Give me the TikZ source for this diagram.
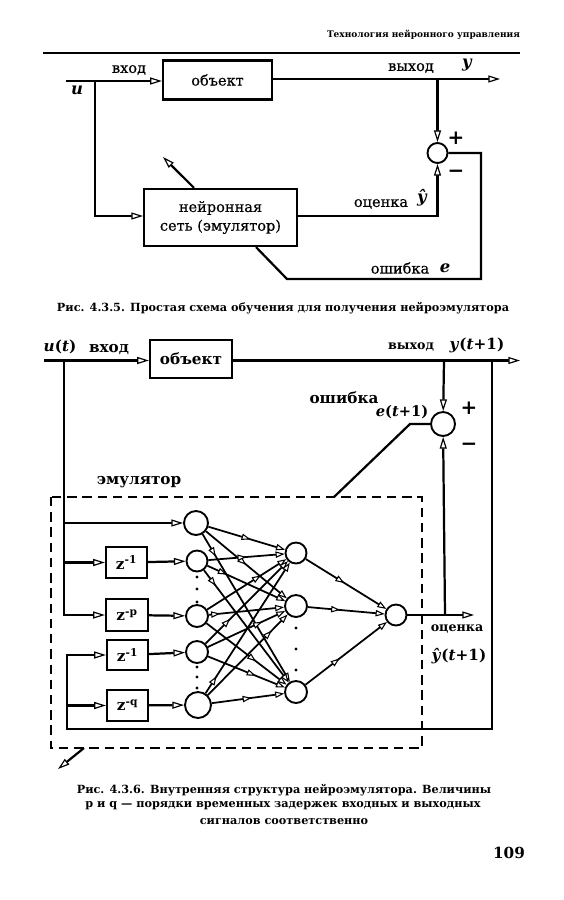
\documentclass[tikz,border=0pt]{standalone}
\usepackage{amsmath,amssymb}
\usepackage{fontspec}
\setmainfont{DejaVu Serif}
\newfontfamily\scanfont[FakeBold=0.5]{DejaVu Serif}
\usepackage{tikz}
\usetikzlibrary{arrows.meta,decorations.markings,calc,positioning,shapes.geometric}
\tikzset{
  opentip/.tip={Triangle[fill=white,length=3.5mm,width=2.1mm,line width=1pt]},
  smalltip/.tip={Triangle[fill=white,length=2.7mm,width=1.9mm,line width=0.9pt]},
  wire/.style={line width=1.9pt},
  thinwire/.style={line width=1.5pt},
  block/.style={draw,line width=1.9pt,inner sep=0pt,align=center},
  neuron/.style={draw,circle,line width=1.6pt,inner sep=0pt},
  lbl/.style={inner sep=0pt,font=\fontsize{12.4}{14}\scanfont},
  lblit/.style={inner sep=0pt,font=\fontsize{14}{16}\selectfont\bfseries\itshape},
  lblb/.style={inner sep=0pt,font=\fontsize{13}{15}\selectfont\bfseries},
  lblsm/.style={inner sep=0pt,font=\fontsize{10.8}{12}\selectfont\bfseries},
  sign/.style={inner sep=0pt,font=\fontsize{17}{17}\selectfont\bfseries},
  zlbl/.style={font=\fontsize{13}{15}\selectfont\bfseries},
  captext/.style={inner sep=0pt,font=\fontsize{9.6}{11}\selectfont\bfseries},
  midtip/.style={postaction={decorate},decoration={markings,mark=at position #1 with {\arrow{smalltip}}}},
  link/.style={thinwire,-smalltip},
}
\begin{document}
\begin{tikzpicture}[x=0.03cm,y=-0.03cm,>=Stealth]
  \useasboundingbox (0,0) rectangle (564,900);
  % page head
  \node[captext,font=\fontsize{7.7}{9}\selectfont\bfseries] (head) at (423.5,35) {Технология нейронного управления};
  \coordinate (ruleL) at (43,53);
  \coordinate (ruleR) at (520,53);
  \draw[line width=2.2pt] (ruleL) -- (ruleR);
  % first scheme
  \node[block,minimum width=3.27cm,minimum height=1.17cm,font=\fontsize{12.4}{14}\scanfont] (plant) at (217.5,80) {объект};
  \node[block,minimum width=4.58cm,minimum height=1.71cm,font=\fontsize{12.4}{16}\scanfont] (net) at (220.5,217.5) {нейронная\\сеть (эмулятор)};
  \node[neuron,minimum size=0.6cm] (sum) at (437.5,153) {};
  \coordinate (inL) at (66,81);
  \coordinate (inT) at (94.7,81);
  \coordinate (outR) at (500,79);
  \coordinate (outT) at (437.5,79);
  \coordinate (learn) at (163,157);
  \draw[wire,-opentip] (inL) -- (plant.west |- inL);
  \draw[wire,-opentip] (inT) |- (net.west |- 0,216);
  \draw[wire,-opentip] (plant.east |- outR) -- (outR);
  \draw[wire,-opentip] (outT) -- (sum);
  \draw[wire,-opentip] (net.east |- 0,216) -| (sum);
  \draw[wire] (sum) -| (481,279) -- (287,279) -- (net.south -| 256,0);
  \draw[wire,-opentip] (net.north -| 194,0) -- (learn);
  \node[lbl] (lin) at (129,70) {вход};
  \node[lblit] (lu) at (77,90) {u};
  \node[lbl] (lout) at (411,68) {выход};
  \node[lblit] (ly) at (467,65) {y};
  \node[lbl] (lest) at (381,204) {оценка};
  \node[lblit] (lyh) at (422,198) {ŷ};
  \node[lbl] (lerr) at (400,268) {ошибка};
  \node[lblit] (le) at (445,268) {e};
  \node[sign] (lplus) at (456,138) {+};
  \node[sign] (lminus) at (456,174) {−};
  \node[captext] (cap1) at (283,308) {Рис. 4.3.5. Простая схема обучения для получения нейроэмулятора};
  % second scheme
  \node[block,minimum width=2.46cm,minimum height=1.14cm,font=\fontsize{13}{15}\selectfont\bfseries] (plantb) at (191,359) {объект};
  \node[neuron,minimum size=0.72cm] (sumb) at (443,424) {};
  \node[block,zlbl,minimum width=1.23cm,minimum height=0.93cm] (za) at (126.5,562.5) {z\textsuperscript{-1}};
  \node[block,zlbl,minimum width=1.26cm,minimum height=0.96cm] (zb) at (127,615) {z\textsuperscript{-p}};
  \node[block,zlbl,minimum width=1.23cm,minimum height=0.90cm] (zc) at (127.5,655) {z\textsuperscript{-1}};
  \node[block,zlbl,minimum width=1.23cm,minimum height=0.93cm] (zd) at (127.5,705.5) {z\textsuperscript{-q}};
  \node[neuron,minimum size=0.72cm] (ia) at (196,523) {};
  \node[neuron,minimum size=0.63cm] (ib) at (197,561) {};
  \node[neuron,minimum size=0.66cm] (ic) at (197,616) {};
  \node[neuron,minimum size=0.66cm] (id) at (197,652) {};
  \node[neuron,minimum size=0.78cm] (ie) at (198,705) {};
  \node[neuron,minimum size=0.63cm] (ha) at (296,553) {};
  \node[neuron,minimum size=0.66cm] (hb) at (296,606) {};
  \node[neuron,minimum size=0.66cm] (hc) at (296,692) {};
  \node[neuron,minimum size=0.63cm] (oa) at (396,615) {};
  \coordinate (inLb) at (44,360.5);
  \coordinate (inTb) at (64,360.5);
  \coordinate (outRb) at (520,360.5);
  \coordinate (outTb) at (444,360.5);
  \coordinate (fbT) at (492,360.5);
  \coordinate (fbC) at (492,729);
  \coordinate (fbL) at (67,729);
  \coordinate (estR) at (474,615);
  \coordinate (estT) at (445,615);
  \coordinate (errK) at (410,424);
  \coordinate (boxT) at (334,497);
  \coordinate (boxB) at (84,748);
  \coordinate (learnb) at (58,769);
  \draw[wire,-opentip] (inLb) -- (plantb.west |- inLb);
  \draw[wire,-opentip] (plantb.east |- outRb) -- (outRb);
  \draw[wire,-opentip] (outTb) -- (sumb);
  \draw[wire,-opentip] (estT) -- (sumb);
  \draw[wire] (sumb) -- (errK) -- (boxT);
  \draw[wire,-opentip] (fbT) -- (fbC) -- (fbL) |- (zc);
  \draw[wire,-opentip] (fbL |- zd) -- (zd);
  \draw[wire,-opentip] (inTb) |- (zb);
  \draw[wire,-opentip] (inTb |- ia) -- (ia);
  \draw[wire,-opentip] (inTb |- za) -- (za);
  \draw[wire,-opentip] (za) -- (ib);
  \draw[wire,-opentip] (zb) -- (ic);
  \draw[wire,-opentip] (zc) -- (id);
  \draw[wire,-opentip] (zd) -- (ie);
  % hidden layer links
  \draw[link,midtip=0.55] (ia) -- (ha);
  \draw[link,midtip=0.50] (ia) -- (hb);
  \draw[link,midtip=0.15] (ia) -- (hc);
  \draw[link,midtip=0.50] (ib) -- (ha);
  \draw[link,midtip=0.25] (ib) -- (hb);
  \draw[link,midtip=0.14] (ib) -- (hc);
  \draw[link,midtip=0.68] (ic) -- (ha);
  \draw[link,midtip=0.15] (ic) -- (hb);
  \draw[link,midtip=0.62] (ic) -- (hc);
  \draw[link,midtip=0.30] (id) -- (ha);
  \draw[link,midtip=0.70] (id) -- (hb);
  \draw[link,midtip=0.62] (id) -- (hc);
  \draw[link,midtip=0.13] (ie) -- (ha);
  \draw[link,midtip=0.80] (ie) -- (hb);
  \draw[link,midtip=0.55] (ie) -- (hc);
  \draw[link,midtip=0.48] (ha) -- (oa);
  \draw[link,midtip=0.42] (hb) -- (oa);
  \draw[link,midtip=0.42] (hc) -- (oa);
  \draw[wire,-opentip] (oa) -- (estR);
  % dots
  \foreach \y in {577,589,602,667,677,688}
    \fill (197,\y) circle (1.3pt);
  \foreach \y in {628,649,670}
    \fill (296,\y) circle (1.3pt);
  % emulator frame
  \draw[line width=1.8pt,dash pattern=on 8pt off 5pt] (51,497) rectangle (422,748);
  \draw[wire,-opentip] (boxB) -- (learnb);
  \node[lblit,font=\fontsize{13}{15}\selectfont\bfseries] (lut) at (60,347) {\textit{u}(\textit{t})};
  \node[lblb] (linb) at (109,349) {вход};
  \node[lblsm] (loutb) at (411,347) {выход};
  \node[lblit,font=\fontsize{13}{15}\selectfont\bfseries] (lyt) at (477,345) {\textit{y}(\textit{t}+1)};
  \node[lblb] (lerrb) at (344,398) {ошибка};
  \node[lblit,font=\fontsize{12.5}{15}\selectfont\bfseries] (let) at (402,412) {\textit{e}(\textit{t}+1)};
  \node[sign] (lplusb) at (469,408) {+};
  \node[sign] (lminusb) at (469,447) {−};
  \node[lblb] (lemu) at (139,482) {эмулятор};
  \node[lblsm] (lestb) at (457,629) {оценка};
  \node[lblit,font=\fontsize{13}{15}\selectfont\bfseries] (lyht) at (459,656) {\textit{ŷ}(\textit{t}+1)};
  \node[captext] (cap2a) at (284,790) {Рис. 4.3.6. Внутренняя структура нейроэмулятора. Величины};
  \node[captext] (cap2b) at (283,806) {p и q — порядки временных задержек входных и выходных};
  \node[captext] (cap2c) at (284,822) {сигналов соответственно};
  \node[lblb] (pageno) at (509,853) {109};
\end{tikzpicture}
\end{document}
